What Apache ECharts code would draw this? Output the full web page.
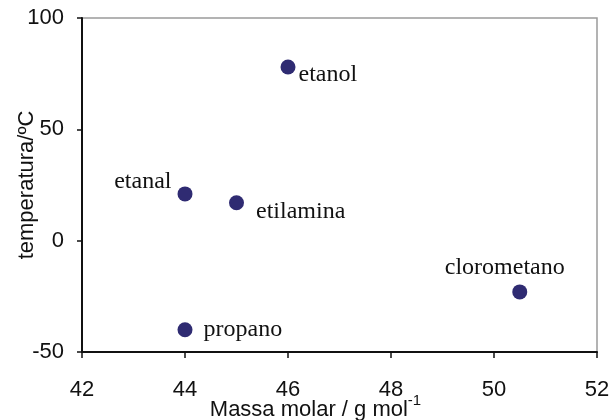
<!DOCTYPE html>
<html>
<head>
<meta charset="utf-8">
<script src="https://cdn.jsdelivr.net/npm/echarts@6/dist/echarts.min.js"></script>
<style>
  html, body { margin: 0; padding: 0; background: #fff; }
  #main { width: 613px; height: 420px; }
</style>
</head>
<body>
<div id="main"></div>
<script>
// dados
var compounds = ['etanol', 'etanal', 'etilamina', 'clorometano', 'propano'];
var molarMass = [46, 44, 45, 50.5, 44];
var temperature = [78, 21, 17, -23, -40];

var xTicks = [42, 44, 46, 48, 50, 52];
var yTicks = [-50, 0, 50, 100];

// onde fica o rótulo de cada ponto
var labelPlace = {
	etanol: { position: 'right', distance: 3, offset: [0, 8] },
	etanal: { position: 'left', distance: 6, offset: [0, -12] },
	etilamina: { position: 'right', distance: 12, offset: [0, 9] },
	clorometano: { position: 'top', distance: 5, offset: [-15, 0] },
	propano: { position: 'right', distance: 11, offset: [0, 0] }
};

var points = compounds.map(function(name, i) {
	return {
		name: name,
		value: [molarMass[i], temperature[i]],
		label: labelPlace[name]
	};
});

var axisFont = 'Liberation Sans, Arial, sans-serif';

var chart = echarts.init(document.getElementById('main'));
chart.setOption({
	animation: false,
	grid: {
		left: 82, right: 16, top: 18, bottom: 68,
		outerBoundsMode: 'none',
		containLabel: false,
		show: true,
		borderColor: '#9a9a9a',
		borderWidth: 1.5,
		backgroundColor: '#fff'
	},
	xAxis: {
		type: 'value',
		min: xTicks[0],
		max: xTicks[xTicks.length - 1],
		interval: 2,
		splitLine: { show: false },
		axisLine: { onZero: false, lineStyle: { color: '#111', width: 2 } },
		axisTick: { length: 6, lineStyle: { color: '#111', width: 1.5 } },
		axisLabel: { color: '#111', fontFamily: axisFont, fontSize: 22, margin: 27 },
		name: 'Massa molar / g mol{sup|-1}',
		nameLocation: 'middle',
		nameGap: 41,
		nameMoveOverlap: false,
		nameTextStyle: {
			color: '#111', fontFamily: axisFont, fontSize: 22,
			padding: [0, 48, 0, 0],
			rich: {
				sup: { fontFamily: axisFont, fontSize: 15, color: '#111', padding: [0, 0, 18, 0] }
			}
		}
	},
	yAxis: {
		type: 'value',
		min: yTicks[0],
		max: yTicks[yTicks.length - 1],
		interval: 50,
		splitLine: { show: false },
		axisLine: { onZero: false, lineStyle: { color: '#111', width: 2 } },
		axisTick: { length: 5, lineStyle: { color: '#111', width: 1.5 } },
		axisLabel: { color: '#111', fontFamily: axisFont, fontSize: 22, margin: 18 },
		name: 'temperatura/ºC',
		nameLocation: 'middle',
		nameGap: 44,
		nameMoveOverlap: false,
		nameTextStyle: { color: '#111', fontFamily: axisFont, fontSize: 22 }
	},
	series: [{
		type: 'scatter',
		symbol: 'circle',
		symbolSize: 15,
		itemStyle: { color: '#2f2b72', opacity: 1 },
		label: {
			show: true,
			formatter: '{b}',
			color: '#111',
			opacity: 1,
			fontFamily: 'Liberation Serif, Times New Roman, serif',
			fontSize: 24
		},
		data: points
	}]
});
</script>
</body>
</html>
